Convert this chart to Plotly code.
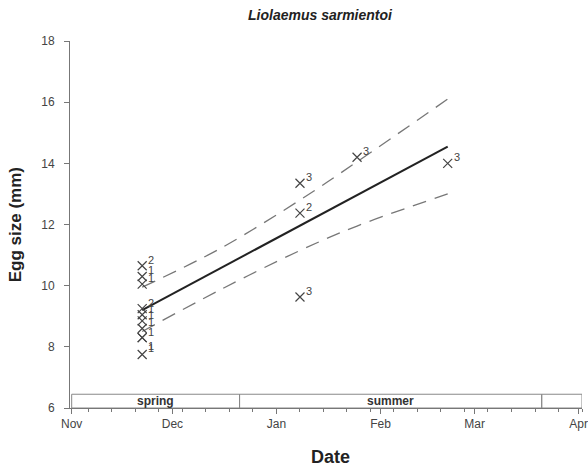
import plotly.graph_objects as go
import pandas as pd

# ---- data ----
point_dates = ["2006-11-22"] * 10 + ["2007-01-08", "2007-01-08", "2007-01-08", "2007-01-25", "2007-02-21"]
point_sizes = [10.65, 10.3, 10.05, 9.25, 9.05, 8.85, 8.6, 8.3, 8.3, 7.75,
               13.35, 12.37, 9.63, 14.2, 14.0]
point_labels = ["2", "1", "1", "2", "1", "1", "1", "1", "1", "1",
                "3", "2", "3", "3", "3"]

fit_dates = ["2006-11-22", "2007-02-21"]
fit_values = [9.2, 14.55]

band_dates = ["2006-11-22", "2006-12-15", "2007-01-08", "2007-01-25", "2007-02-21"]
band_upper = [9.95, 11.2, 12.8, 14.05, 16.1]
band_lower = [8.5, 9.85, 11.15, 11.95, 13.0]

season_names = ["spring", "summer", ""]
season_starts = ["2006-11-01", "2006-12-21", "2007-03-21"]
season_ends = ["2006-12-21", "2007-03-21", "2007-04-02"]
season_top = 6.45

x_range = ["2006-10-31 12:00", "2007-04-02"]
y_range = [6, 18]

FONT = "Liberation Sans, Arial, sans-serif"
GREY = "#444444"

fig = go.Figure()

# confidence band (dashed)
for vals in (band_upper, band_lower):
    fig.add_trace(go.Scatter(
        x=band_dates, y=vals, mode="lines",
        line=dict(color="#777777", width=1.3, dash="14px,9px", shape="spline"),
        hoverinfo="skip", showlegend=False))

# regression line
fig.add_trace(go.Scatter(
    x=fit_dates, y=fit_values, mode="lines",
    line=dict(color="#222222", width=2), showlegend=False))

# points
fig.add_trace(go.Scatter(
    x=point_dates, y=point_sizes, mode="markers",
    marker=dict(symbol="x-thin", size=9, line=dict(color=GREY, width=1.2)),
    cliponaxis=False, showlegend=False))

# superscript counts next to the points
label_dy = [6] * len(point_sizes)
label_dy[8] = -8
for d, v, t, dy in zip(point_dates, point_sizes, point_labels, label_dy):
    fig.add_annotation(x=d, y=v, text=t, showarrow=False, xanchor="left", yanchor="middle",
                       xshift=4, yshift=dy, font=dict(family=FONT, size=11, color=GREY))

# season boxes
for name, s, e in zip(season_names, season_starts, season_ends):
    fig.add_shape(type="rect", xref="x", yref="y", x0=s, x1=e, y0=y_range[0], y1=season_top,
                  line=dict(color="#888888", width=1), fillcolor="rgba(0,0,0,0)", layer="below")
    if name:
        mid = pd.Timestamp(s) + (pd.Timestamp(e) - pd.Timestamp(s)) / 2
        fig.add_annotation(x=mid, y=(y_range[0] + season_top) / 2, text="<b>%s</b>" % name,
                           showarrow=False, yanchor="middle",
                           font=dict(family=FONT, size=12, color="#333333"))

# titles
fig.add_annotation(xref="paper", yref="paper", x=0.49, y=1.07, text="<b><i>Liolaemus sarmientoi</i></b>",
                   showarrow=False, xanchor="center", yanchor="middle",
                   font=dict(family=FONT, size=14, color="#222222"))
fig.add_annotation(xref="paper", yref="paper", x=0.508, y=-0.134, text="<b>Date</b>",
                   showarrow=False, xanchor="center", yanchor="middle",
                   font=dict(family=FONT, size=18, color="#222222"))
fig.add_annotation(xref="paper", yref="paper", x=-0.106, y=0.5, text="<b>Egg size (mm)</b>",
                   showarrow=False, xanchor="center", yanchor="middle", textangle=-90,
                   font=dict(family=FONT, size=17, color="#222222"))

fig.update_layout(
    width=588, height=472,
    margin=dict(l=70, r=6, t=41, b=64),
    paper_bgcolor="white", plot_bgcolor="white",
    font=dict(family=FONT, size=12, color=GREY),
)

fig.update_xaxes(
    type="date", range=x_range, tick0="2006-11-01", dtick="M1", tickformat="%b",
    automargin=False,
    showgrid=False, zeroline=False, showline=True, linecolor="#777777", linewidth=1,
    ticks="outside", ticklen=5, tickcolor="#777777",
    minor=dict(ticks="outside", ticklen=3, tickcolor="#777777",
               tick0="2006-11-06", dtick=7 * 24 * 3600 * 1000, showgrid=False),
    tickfont=dict(family=FONT, size=12, color=GREY),
)
fig.update_yaxes(
    range=y_range, dtick=2, tick0=6, automargin=False,
    showgrid=False, zeroline=False, showline=True, linecolor="#777777", linewidth=1,
    ticks="outside", ticklen=5, tickcolor="#777777", ticklabelstandoff=7,
    tickfont=dict(family=FONT, size=12, color=GREY),
)

fig.write_html("out.html", config={"displayModeBar": False},
               post_script="document.body.style.margin='0';document.body.style.overflow='hidden';")
